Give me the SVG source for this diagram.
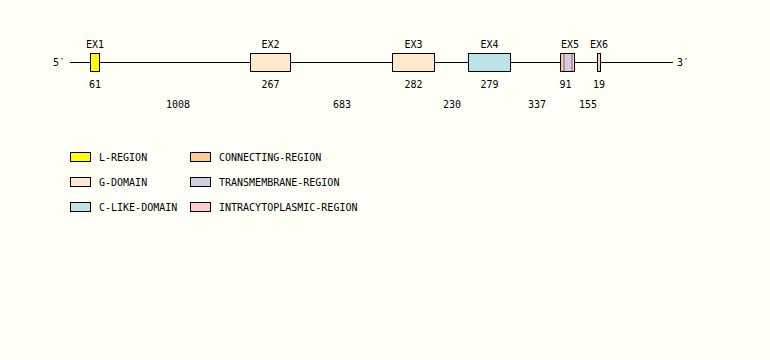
<svg xmlns="http://www.w3.org/2000/svg" width="770" height="360" viewBox="0 0 770 360">
<style>
text{font-family:"DejaVu Sans Mono","Liberation Mono",monospace;font-size:10px;fill:#000}
.c{text-anchor:middle}
.b{stroke:#000;stroke-width:1}
.L{fill:#ffff00}.G{fill:#ffe8cc}.C{fill:#bde3e8}.N{fill:#ffcc99}.T{fill:#d4cce0}.I{fill:#ffcccc}
</style>
<rect width="770" height="360" fill="#fffff8"/>
<g id="connectors">
<line x1="70" y1="62.5" x2="673" y2="62.5" stroke="#000" stroke-width="1"/>
</g>
<text x="53" y="66">5′</text>
<text x="677" y="66">3′</text>
<g id="ex1"><rect class="b L" x="90.5" y="53.5" width="9" height="18"/><text class="c" x="95" y="48">EX1</text><text class="c" x="95" y="88">61</text></g>
<g id="ex2"><rect class="b G" x="250.5" y="53.5" width="40" height="18"/><text class="c" x="270.5" y="48">EX2</text><text class="c" x="270.5" y="88">267</text></g>
<g id="ex3"><rect class="b G" x="392.5" y="53.5" width="42" height="18"/><text class="c" x="413.5" y="48">EX3</text><text class="c" x="413.5" y="88">282</text></g>
<g id="ex4"><rect class="b C" x="468.5" y="53.5" width="42" height="18"/><text class="c" x="489.5" y="48">EX4</text><text class="c" x="489.5" y="88">279</text></g>
<g id="ex5"><rect class="T" x="560.5" y="53.5" width="14" height="18"/><rect class="N" x="561" y="54" width="3" height="17"/><rect class="I" x="572" y="54" width="2" height="17"/><line x1="564" y1="54" x2="564" y2="71" stroke="#000" stroke-width="0.5"/><line x1="572" y1="54" x2="572" y2="71" stroke="#000" stroke-width="0.5"/><rect class="b" fill="none" x="560.5" y="53.5" width="14" height="18"/><text class="c" x="570" y="48">EX5</text><text class="c" x="565.5" y="88">91</text></g>
<g id="ex6"><rect class="b I" x="597.5" y="53.5" width="3" height="18"/><text class="c" x="599" y="48">EX6</text><text class="c" x="599" y="88">19</text></g>
<g id="introns">
<text class="c" x="178" y="108">1008</text>
<text class="c" x="342" y="108">683</text>
<text class="c" x="452" y="108">230</text>
<text class="c" x="537" y="108">337</text>
<text class="c" x="588" y="108">155</text>
</g>
<g id="legend">
<rect class="b L" x="70.5" y="152.5" width="20" height="9"/><text x="99" y="161">L-REGION</text>
<rect class="b G" x="70.5" y="177.5" width="20" height="9"/><text x="99" y="186">G-DOMAIN</text>
<rect class="b C" x="70.5" y="202.5" width="20" height="9"/><text x="99" y="211">C-LIKE-DOMAIN</text>
<rect class="b N" x="190.5" y="152.5" width="20" height="9"/><text x="219" y="161">CONNECTING-REGION</text>
<rect class="b T" x="190.5" y="177.5" width="20" height="9"/><text x="219" y="186">TRANSMEMBRANE-REGION</text>
<rect class="b I" x="190.5" y="202.5" width="20" height="9"/><text x="219" y="211">INTRACYTOPLASMIC-REGION</text>
</g>
</svg>
